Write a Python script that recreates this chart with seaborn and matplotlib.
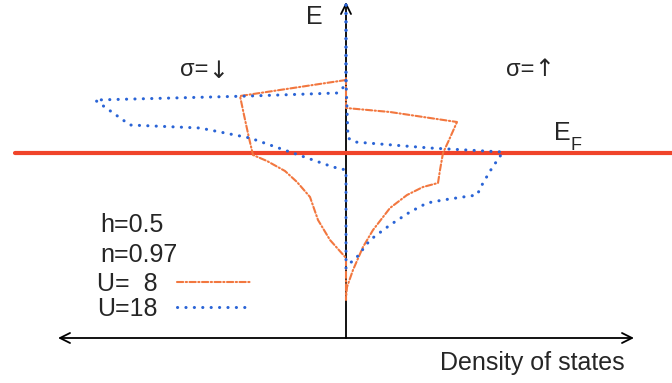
import numpy as np
import pandas as pd
import seaborn as sns
import matplotlib.pyplot as plt

sns.set_theme(style='white')
plt.rcParams['font.family'] = ['Liberation Sans', 'DejaVu Sans']

# ---- data: density of states (magnitude) vs energy (E_F = 0) ----
# U = 8, spin down (drawn to the left)
E_u8_dn = [0.73, 0.57, 0.38, 0.15, -0.02, -0.08, -0.18, -0.29, -0.44, -0.67, -0.87, -1.05, -1.47]
D_u8_dn = [0.00, 1.06, 1.02, 0.97, 0.93, 0.79, 0.61, 0.49, 0.36, 0.28, 0.16, 0.00, 0.00]
# U = 8, spin up (drawn to the right)
E_u8_up = [0.75, 0.45, 0.41, 0.35, 0.31, 0.13, 0.00, -0.17, -0.30, -0.34, -0.42, -0.55, -0.77, -0.94, -1.17, -1.34, -1.45]
D_u8_up = [0.00, 0.00, 0.44, 0.84, 1.11, 1.03, 0.97, 0.94, 0.92, 0.77, 0.61, 0.44, 0.27, 0.17, 0.07, 0.01, 0.00]
# U = 18, spin down
E_u18_dn = [1.48, 0.68, 0.60, 0.57, 0.53, 0.28, 0.25, 0.15, 0.00, -0.14, -0.17, -1.15]
D_u18_dn = [0.00, 0.00, 0.09, 0.96, 2.51, 2.16, 1.46, 0.96, 0.53, 0.13, 0.00, 0.00]
# U = 18, spin up
E_u18_up = [1.48, 0.73, 0.15, 0.11, 0.05, 0.01, -0.15, -0.30, -0.42, -0.44, -0.47, -0.50, -0.59, -0.72, -0.87, -1.04, -1.12, -1.15]
D_u18_up = [0.00, 0.00, 0.02, 0.09, 0.84, 1.57, 1.46, 1.37, 1.31, 1.17, 0.97, 0.81, 0.64, 0.44, 0.24, 0.11, 0.02, 0.00]

labels = ['U=  8', 'U=18']
params = ['h=0.5', 'n=0.97']

c8 = '#f2773f'
c18 = '#2a64d6'
cF = '#f0442a'
ls8 = (0, (3.0, 1.2, 0.6, 1.2))
ls18 = (0, (0.05, 2.7))

fig = plt.figure(figsize=(6.72, 3.83), dpi=100)
ax = fig.add_axes([0, 0, 1, 1])
ax.set_xlim(-3.46, 3.26)
ax.set_ylim(-2.30, 1.53)
ax.axis('off')

# axes arrows
ax.annotate('', xy=(0, 1.51), xytext=(0, -1.85),
            arrowprops=dict(arrowstyle='->', lw=1.3, color='black', mutation_scale=18,
                            shrinkA=0, shrinkB=0), zorder=1)
ax.annotate('', xy=(2.88, -1.85), xytext=(-2.88, -1.85),
            arrowprops=dict(arrowstyle='<->', lw=1.3, color='black', mutation_scale=18,
                            shrinkA=0, shrinkB=0), zorder=1)

# Fermi level
ax.axhline(0, xmin=15 / 672, xmax=1, color=cF, lw=3.0, zorder=2)

# curves
def draw(D, E, sign, color, ls, lw):
    df = pd.DataFrame({'dos': [sign * d for d in D], 'E': E})
    n0 = len(ax.get_lines())
    sns.lineplot(data=df, x='dos', y='E', sort=False, estimator=None, color=color,
                 linestyle=ls, lw=lw, ax=ax, zorder=3, dash_capstyle='round')
    return ax.get_lines()[n0]

l8 = draw(D_u8_dn, E_u8_dn, -1, c8, ls8, 1.5)
draw(D_u8_up, E_u8_up, 1, c8, ls8, 1.5)
l18 = draw(D_u18_dn, E_u18_dn, -1, c18, ls18, 2.2)
draw(D_u18_up, E_u18_up, 1, c18, ls18, 2.2)

leg = ax.legend(handles=[l8, l18], labels=labels, markerfirst=False, frameon=False,
                loc='upper left', bbox_to_anchor=(0.144, 0.290), handlelength=2.9,
                handletextpad=0.8, labelspacing=0.05, borderpad=0, borderaxespad=0,
                fontsize=18)

fs = 18
ax.text(-0.32, 1.36, 'E', fontsize=fs, ha='center', va='center')
ax.text(-1.38, 0.83, 'σ=', fontsize=17, ha='right', va='center')
ax.text(-1.38, 0.82, '↓', fontsize=17, ha='left', va='center', family='DejaVu Sans')
ax.text(1.88, 0.83, 'σ=', fontsize=17, ha='right', va='center')
ax.text(1.88, 0.84, '↑', fontsize=17, ha='left', va='center', family='DejaVu Sans')
ax.text(2.08, 0.13, 'E', fontsize=fs, ha='left', va='baseline')
ax.text(2.24, 0.03, 'F', fontsize=13, ha='left', va='baseline')
ax.text(-2.46, -0.79, params[0], fontsize=fs, ha='left', va='baseline')
ax.text(-2.46, -1.09, params[1], fontsize=fs, ha='left', va='baseline')
ax.text(2.79, -2.17, 'Density of states', fontsize=fs, ha='right', va='baseline')

fig.savefig('out.png', dpi=100)
